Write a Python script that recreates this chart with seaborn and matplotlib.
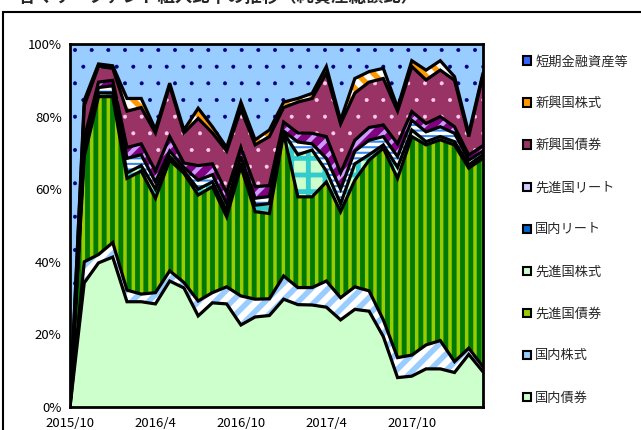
import numpy as np
import pandas as pd
import matplotlib
matplotlib.use("Agg")
import matplotlib.pyplot as plt
from matplotlib.patches import Patch, Rectangle
import seaborn as sns

# month index 0 = 2015/10 ... 29 = 2018/3
months = list(range(30))
tick_pos = [0, 6, 12, 18, 24]
tick_labels = ["2015/10", "2016/4", "2016/10", "2017/4", "2017/10"]

dom_bond = [0, 34.2, 39.7, 41.3, 29.0, 29.0, 28.4, 34.7, 32.8, 25.1, 28.7, 28.4, 22.6, 24.8, 25.2,
            29.7, 28.2, 28.1, 27.5, 24.0, 26.9, 26.4, 19.4, 8.1, 8.5, 10.5, 10.5, 9.5, 14.5, 9.7]
dom_stock = [0, 5.8, 2.3, 4.0, 3.2, 2.1, 3.1, 2.8, 1.5, 4.1, 2.8, 4.7, 8.0, 4.9, 4.6,
             6.4, 4.7, 4.8, 7.2, 6.1, 6.2, 5.6, 4.6, 5.5, 5.8, 6.6, 7.8, 3.0, 1.7, 1.4]
dev_bond = [0, 29.0, 43.5, 40.2, 30.8, 33.9, 26.0, 30.5, 30.1, 29.2, 29.2, 19.3, 35.6, 24.1, 23.5,
            39.3, 25.0, 25.0, 27.3, 23.7, 29.4, 36.0, 47.3, 49.4, 60.2, 55.1, 55.3, 59.7, 49.6, 57.4]
dev_stock = [0, 2.0, 1.0, 1.0, 1.5, 1.5, 2.5, 1.0, 0.6, 1.6, 1.3, 1.6, 1.0, 1.8, 2.7,
             0.2, 11.6, 12.9, 3.0, 2.2, 4.5, 1.5, 0.9, 3.0, 1.8, 0.9, 0.9, 0.9, 0.9, 1.0]
dom_reit = [0, 1.0, 1.5, 2.0, 4.0, 3.0, 2.0, 1.5, 1.0, 2.5, 2.0, 2.0, 1.8, 1.9, 2.0,
            0.4, 3.5, 1.7, 3.5, 4.0, 3.5, 4.0, 2.3, 3.0, 2.7, 2.7, 2.7, 2.3, 1.3, 1.0]
dev_reit = [0, 2.0, 1.5, 1.5, 3.0, 3.0, 3.0, 4.0, 1.2, 4.0, 3.0, 3.0, 2.5, 3.2, 3.0,
            2.5, 2.5, 2.9, 6.0, 4.5, 3.0, 3.5, 3.2, 3.5, 2.4, 2.3, 2.8, 1.8, 1.4, 1.5]
em_bond = [0, 9.0, 4.3, 3.3, 10.0, 10.0, 10.5, 14.0, 8.3, 13.0, 8.5, 11.5, 10.5, 11.5, 13.5,
           4.0, 8.5, 9.6, 17.5, 13.5, 13.0, 12.5, 12.8, 9.0, 12.4, 12.0, 12.8, 12.8, 5.1, 19.5]
em_stock = [0, 1.5, 0.7, 0.7, 3.5, 2.5, 1.0, 0.7, 0.8, 2.8, 1.7, 1.0, 2.0, 1.4, 1.8,
            1.5, 1.0, 1.4, 1.8, 1.0, 4.0, 2.9, 2.8, 1.0, 1.6, 2.7, 2.6, 1.0, 0.9, 0.5]
cash = [100, 15.5, 5.5, 6.0, 15.0, 15.0, 23.5, 10.8, 23.7, 17.7, 22.8, 28.5, 16.0, 26.4, 23.7,
        16.0, 15.0, 13.6, 6.2, 21.0, 9.5, 7.6, 6.7, 17.5, 4.6, 7.2, 4.6, 9.0, 24.6, 8.0]

names = ["国内債券", "国内株式", "先進国債券", "先進国株式", "国内リート",
         "先進国リート", "新興国債券", "新興国株式", "短期金融資産等"]
stack = np.array([dom_bond, dom_stock, dev_bond, dev_stock, dom_reit,
                  dev_reit, em_bond, em_stock, cash])

# face colour, hatch, hatch colour, hatch width, legend colour
styles = [
    ("#CCFFCC", None, "#CCFFCC", 1.0, "#CCFFCC"),
    ("white", "//", "#99CCFF", 4.0, "#99CCFF"),
    ("#99CC00", "||", "#007A00", 3.5, "#99CC00"),
    ("#CCFFCC", "+", "#33CCCC", 3.5, "#CCFFCC"),
    ("white", "---", "#3388EE", 1.5, "#0066CC"),
    ("#800080", "//", "#CC99FF", 3.0, "#CCCCFF"),
    ("#993366", ".", "#FFCCEE", 0.4, "#993366"),
    ("white", "\\\\", "#FF9900", 4.0, "#FF9900"),
    ("#99CCFF", ".", "#000080", 0.4, "#3366FF"),
]

sns.set_style("white")
plt.rcParams["font.family"] = ["Noto Sans CJK JP", "DejaVu Sans"]

fig = plt.figure(figsize=(6.41, 4.30), dpi=100)
ax = fig.add_axes([70 / 641, 1 - 407 / 430, 413 / 641, 363 / 430])

cum = np.cumsum(stack, axis=0)
lower = np.zeros(len(months))
for i, (fc, hatch, hc, hlw, _) in enumerate(styles):
    with plt.rc_context({"hatch.linewidth": hlw}):
        poly = ax.fill_between(months, lower, cum[i], facecolor=fc, hatch=hatch,
                               edgecolor=hc, linewidth=0)
        if hasattr(poly, "set_hatch_linewidth"):
            poly.set_hatch_linewidth(hlw)
    lower = cum[i]

lines = pd.DataFrame({
    "x": np.tile(months, 8),
    "y": cum[:8].ravel(),
    "layer": np.repeat(names[:8], len(months)),
})
sns.lineplot(data=lines, x="x", y="y", units="layer", estimator=None,
             color="black", lw=2.3, ax=ax, legend=False)
for ln in ax.lines:
    ln.set_solid_joinstyle("miter")

ax.set_xlim(0, 29)
ax.set_ylim(0, 100)
ax.set_xticks(tick_pos)
ax.set_xticklabels(tick_labels)
ax.set_yticks([0, 20, 40, 60, 80, 100])
ax.set_yticklabels([f"{v}%" for v in range(0, 101, 20)])
ax.tick_params(direction="in", length=4, width=1, labelsize=9.5, colors="black")
ax.tick_params(axis="x", pad=7)
ax.tick_params(axis="y", pad=6)
ax.set_xlabel("")
ax.set_ylabel("")
for sp in ax.spines.values():
    sp.set_color("black")
    sp.set_linewidth(2)

handles = [Patch(facecolor=s[4], edgecolor="black", linewidth=1.5) for s in styles]
fig.legend(handles[::-1], names[::-1], loc="upper left", bbox_to_anchor=(518 / 641, 1 - 50 / 430),
           frameon=False, fontsize=9.5, handlelength=0.6, handleheight=0.6,
           handletextpad=0.3, labelspacing=2.2, borderaxespad=0)

fig.add_artist(Rectangle((3 / 641, -0.05), 1.0, 1.05 - 12 / 430, transform=fig.transFigure,
                         fill=False, edgecolor="black", linewidth=1.5, clip_on=False))
fig.text(0.003, 1 - 6 / 430, "・各マザーファンド組入比率の推移（純資産総額比）",
         fontsize=12.5, fontweight="bold", ha="left", va="bottom")

fig.savefig("out.png", dpi=100)
